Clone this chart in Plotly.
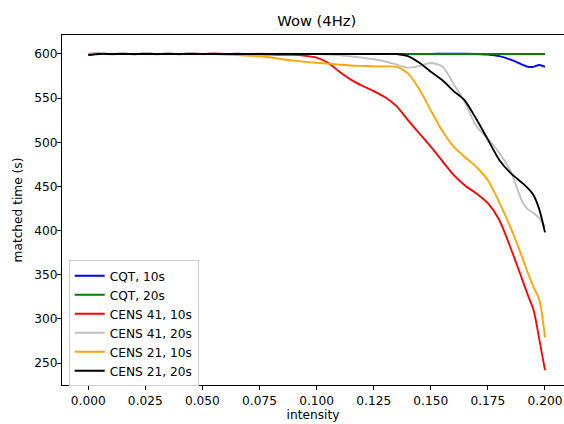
import plotly.graph_objects as go

intensity = [0.000, 0.005, 0.010, 0.015, 0.020, 0.025, 0.030, 0.035, 0.040, 0.045,
             0.050, 0.055, 0.060, 0.065, 0.070, 0.075, 0.080, 0.085, 0.090, 0.095,
             0.100, 0.105, 0.110, 0.115, 0.120, 0.125, 0.130, 0.135, 0.140, 0.145,
             0.150, 0.155, 0.160, 0.165, 0.170, 0.175, 0.180, 0.185, 0.190, 0.1925,
             0.195, 0.1975, 0.200]

cqt_10 = [600, 600, 600, 600, 600, 600, 600, 600, 600, 600,
          600, 600, 600, 600, 600, 600, 600, 600, 600, 600,
          600, 600, 600, 600, 600, 600, 600, 600, 600, 600,
          600.2, 600.3, 600.3, 600.3, 600, 599.3, 597.5, 593.5, 588, 585.5,
          585.5, 587.5, 585.5]

cqt_20 = [600] * 43

cens41_10 = [600, 600.8, 599.8, 600.6, 599.6, 600.8, 599.8, 600.6, 599.7, 600.8,
             600, 600.5, 600, 600, 600, 599.6, 599.2, 599, 599, 598,
             596, 590, 580, 571, 564, 558, 551, 541, 525, 510,
             495, 479, 463, 451, 442, 431, 412, 380, 345, 327,
             310, 277, 242]

cens41_20 = [600, 601.5, 599.3, 601.2, 599.5, 601.3, 599.4, 601, 599.5, 601.2,
             599.6, 601, 599.7, 600.8, 600, 600.5, 600.2, 600.3, 600.2, 600,
             599.8, 599.3, 598.5, 597.3, 595.8, 594, 591.5, 588, 584.5, 586.5,
             589.8, 586, 566, 545, 518, 504, 488, 467, 433, 424,
             420, 414, 404]

cens21_10 = [600, 600, 600, 600, 600, 600, 600, 600, 600, 600,
             600, 599.8, 599.3, 598.7, 598, 597.4, 596, 594, 592.5, 591,
             590, 589, 588, 587, 586.5, 586, 586, 585.5, 578, 560,
             536, 513, 495, 483, 472, 457, 432, 403, 370, 352,
             336, 322, 279]

cens21_20 = [598.8, 600, 600, 600, 600, 600, 600, 600, 600, 600,
             600, 600, 600, 600, 600, 600, 600, 600, 600, 600,
             600, 600, 600, 600, 600, 600, 600, 600, 597.5, 590,
             580, 570.5, 558, 547, 526, 503, 480, 465, 454, 448,
             440, 424, 398]

series = [
    ("CQT, 10s", cqt_10, "#0000ff"),
    ("CQT, 20s", cqt_20, "#008000"),
    ("CENS 41, 10s", cens41_10, "#ff0000"),
    ("CENS 41, 20s", cens41_20, "#c0c0c0"),
    ("CENS 21, 10s", cens21_10, "#ffa500"),
    ("CENS 21, 20s", cens21_20, "#000000"),
]

FONT = "DejaVu Sans"

W, H = 564, 424
L, T, B = 62.3, 34.7, 39.3
PW = W - L
PH = H - T - B

fig = go.Figure()
for name, vals, color in series:
    fig.add_trace(go.Scatter(
        x=intensity, y=vals, mode="lines", name=name,
        line=dict(color=color, width=1.85, shape="spline", smoothing=0.7),
    ))

fig.update_layout(
    template="none",
    width=W, height=H,
    margin=dict(l=L, r=0, t=T, b=B, pad=0, autoexpand=False),
    paper_bgcolor="white", plot_bgcolor="white",
    font=dict(family=FONT, size=12.2, color="black"),
    title=dict(text="Wow (4Hz)", x=316.7 / W, xref="container", xanchor="center",
               y=1 - 21 / H, yref="container", yanchor="middle",
               font=dict(family=FONT, size=14.7, color="black")),
    legend=dict(x=6.7 / PW, y=(PH - 229.3 + 4) / PH, xanchor="left", yanchor="top",
                bgcolor="rgba(255,255,255,0.8)", bordercolor="#cccccc", borderwidth=1,
                font=dict(family=FONT, size=12.2, color="black"),
                tracegroupgap=0),
    showlegend=True,
)

fig.update_xaxes(
    automargin=False,
    range=[-(88.5 - 62.3) / 2282.5, (564 - 88.5) / 2282.5],
    tickvals=[0, 0.025, 0.05, 0.075, 0.1, 0.125, 0.15, 0.175, 0.2],
    ticktext=["0.000", "0.025", "0.050", "0.075", "0.100", "0.125", "0.150", "0.175", "0.200"],
    ticklabeloverflow="allow",
    showline=True, linecolor="black", linewidth=1, mirror=True,
    ticks="outside", ticklen=4, tickwidth=1, tickcolor="black",
    showgrid=False, zeroline=False,
    title=dict(text="intensity", standoff=0, font=dict(family=FONT, size=12.2)),
)
fig.update_yaxes(
    automargin=False,
    range=[225.1, 621.5],
    tickvals=[250, 300, 350, 400, 450, 500, 550, 600],
    showline=True, linecolor="black", linewidth=1, mirror=False,
    ticks="outside", ticklen=4, tickwidth=1, tickcolor="black",
    ticklabelstandoff=-3,
    showgrid=False, zeroline=False,
    title=dict(text="matched time (s)", standoff=9, font=dict(family=FONT, size=12.2)),
)

fig.write_html("out.html",
               config={"displayModeBar": False},
               post_script="document.body.style.margin='0';document.body.style.overflow='hidden';")
